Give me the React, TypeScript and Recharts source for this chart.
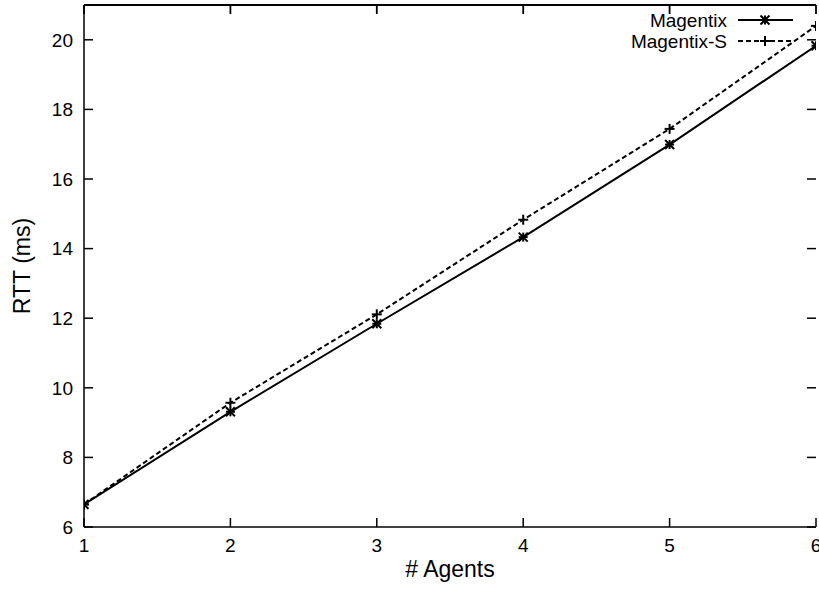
import React from 'react';
import { LineChart, Line, XAxis, YAxis, Legend, ReferenceLine } from 'recharts';

const agents = [1, 2, 3, 4, 5, 6];
const magentix = [6.65, 9.31, 11.84, 14.33, 16.99, 19.83];
const magentixS = [6.65, 9.57, 12.11, 14.83, 17.44, 20.4];
const xTicks = [1, 2, 3, 4, 5, 6];
const yTicks = [6, 8, 10, 12, 14, 16, 18, 20];
const yMax = 21;

const data = agents.map((a, i) => ({ agents: a, magentix: magentix[i], magentixS: magentixS[i] }));

const FONT = '"Liberation Sans", Arial, Helvetica, sans-serif';
const TICK = 9;
const PLOT_TOP = 5;
const PLOT_RIGHT = 816;

const Star = (props: any) => {
  const { cx, cy } = props;
  if (cx == null || cy == null) return null;
  const r = 4.5;
  return (
    <g stroke="#000" strokeWidth={2}>
      <line x1={cx - r} x2={cx + r} y1={cy} y2={cy} />
      <line x1={cx} x2={cx} y1={cy - r} y2={cy + r} />
      <line x1={cx - r} x2={cx + r} y1={cy - r} y2={cy + r} />
      <line x1={cx - r} x2={cx + r} y1={cy + r} y2={cy - r} />
    </g>
  );
};

const Plus = (props: any) => {
  const { cx, cy } = props;
  if (cx == null || cy == null) return null;
  const r = 5;
  return (
    <g stroke="#000" strokeWidth={2}>
      <line x1={cx - r} x2={cx + r} y1={cy} y2={cy} />
      <line x1={cx} x2={cx} y1={cy - r} y2={cy + r} />
    </g>
  );
};

const BottomTick = (props: any) => {
  const { x, y, payload } = props;
  const axisY = y - 12;
  return (
    <g>
      <line x1={x} x2={x} y1={axisY} y2={axisY - TICK} stroke="#000" strokeWidth={1.5} />
      <line x1={x} x2={x} y1={PLOT_TOP} y2={PLOT_TOP + TICK} stroke="#000" strokeWidth={1.8} />
      <text x={x} y={y} dy="0.71em" textAnchor="middle" fontSize={19} fontFamily={FONT} fill="#000">
        {payload.value}
      </text>
    </g>
  );
};

const LeftTick = (props: any) => {
  const { x, y, payload } = props;
  const axisX = x + 11;
  return (
    <g>
      <line x1={axisX} x2={axisX + TICK} y1={y} y2={y} stroke="#000" strokeWidth={1.5} />
      <line x1={PLOT_RIGHT} x2={PLOT_RIGHT - TICK} y1={y} y2={y} stroke="#000" strokeWidth={1.5} />
      <text x={x} y={y} dy="0.36em" textAnchor="end" fontSize={19} fontFamily={FONT} fill="#000">
        {payload.value}
      </text>
    </g>
  );
};

const LX = 620;
const LY = 8;
const LegendContent = () => (
  <svg width={185} height={45} style={{ display: 'block', background: 'transparent', overflow: 'visible' }}>
    <g fontFamily={FONT} fontSize={19} fill="#000">
      <text x={727 - LX} y={20 - LY} dy="0.36em" textAnchor="end">Magentix</text>
      <line x1={738 - LX} x2={793 - LX} y1={20 - LY} y2={20 - LY} stroke="#000" strokeWidth={2} />
      <Star cx={765 - LX} cy={20 - LY} />
      <text x={727 - LX} y={41 - LY} dy="0.36em" textAnchor="end">Magentix-S</text>
      <line x1={738 - LX} x2={793 - LX} y1={41 - LY} y2={41 - LY} stroke="#000" strokeWidth={2} strokeDasharray="5 3" />
      <Plus cx={765 - LX} cy={41 - LY} />
    </g>
  </svg>
);

export default function App() {
  return (
    <div style={{ position: 'absolute', left: 0, top: 0, background: '#fff' }}>
      <LineChart width={819} height={589} data={data} margin={{ top: PLOT_TOP, right: 3, bottom: 0, left: 0 }}>
        <XAxis
          xAxisId="bottom"
          dataKey="agents"
          type="number"
          domain={[1, 6]}
          ticks={xTicks}
          allowDataOverflow
          height={62}
          tickSize={0}
          tickMargin={12}
          tickLine={false}
          axisLine={{ stroke: '#000', strokeWidth: 1.5 }}
          tick={<BottomTick />}
          interval={0}
          label={{
            content: () => (
              <text x={450} y={577} textAnchor="middle" fontSize={23} fontFamily={FONT} fill="#000">
                # Agents
              </text>
            ),
          }}
        />
        <YAxis
          yAxisId="left"
          type="number"
          domain={[6, yMax]}
          ticks={yTicks}
          allowDataOverflow
          width={84}
          tickSize={0}
          tickMargin={11}
          tickLine={false}
          axisLine={{ stroke: '#000', strokeWidth: 1.5 }}
          tick={<LeftTick />}
          interval={0}
          label={{
            content: () => (
              <text
                x={30}
                y={266}
                transform="rotate(-90 30 266)"
                textAnchor="middle"
                fontSize={23}
                fontFamily={FONT}
                fill="#000"
              >
                RTT (ms)
              </text>
            ),
          }}
        />
        <YAxis
          yAxisId="right"
          orientation="right"
          type="number"
          domain={[6, yMax]}
          ticks={yTicks}
          allowDataOverflow
          width={0}
          tickSize={0}
          tickMargin={0}
          tickLine={false}
          tick={false}
          axisLine={{ stroke: '#000', strokeWidth: 1.5 }}
        />
        <ReferenceLine xAxisId="bottom" yAxisId="left" y={yMax} stroke="#000" strokeWidth={2} ifOverflow="visible" />
        <Legend
          layout="horizontal"
          verticalAlign="middle"
          align="center"
          content={<LegendContent />}
          wrapperStyle={{ top: LY, left: LX, width: 185, height: 45, background: 'transparent' }}
        />
        <Line
          xAxisId="bottom"
          yAxisId="left"
          type="linear"
          dataKey="magentix"
          name="Magentix"
          stroke="#000"
          strokeWidth={2}
          dot={<Star />}
          activeDot={false}
          isAnimationActive={false}
        />
        <Line
          xAxisId="bottom"
          yAxisId="left"
          type="linear"
          dataKey="magentixS"
          name="Magentix-S"
          stroke="#000"
          strokeWidth={2}
          strokeDasharray="5 3"
          dot={<Plus />}
          activeDot={false}
          isAnimationActive={false}
        />
      </LineChart>
    </div>
  );
}
